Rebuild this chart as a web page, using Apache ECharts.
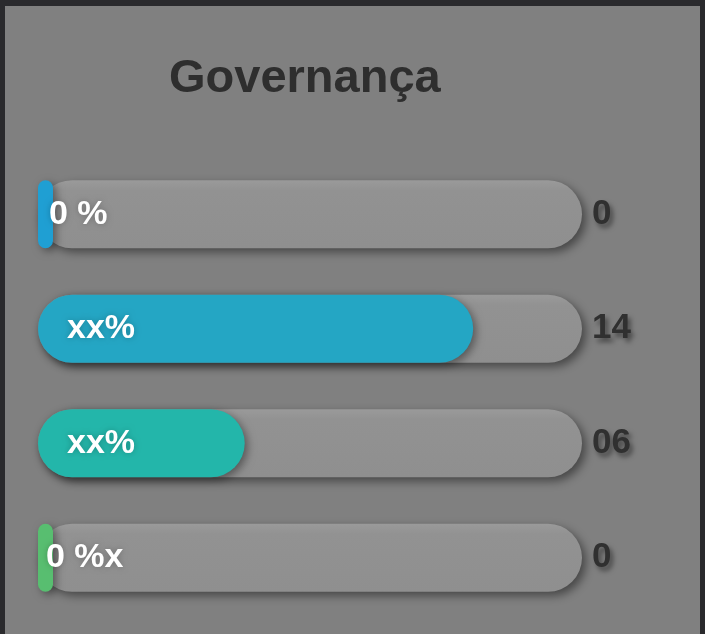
<!DOCTYPE html>
<html>
<head>
<meta charset="utf-8">
<script src="https://cdn.jsdelivr.net/npm/echarts@6/dist/echarts.min.js"></script>
<style>
  html, body { margin: 0; padding: 0; background: #2a2a2d; width: 705px; height: 634px; overflow: hidden; }
  #main { position: absolute; left: 5px; top: 6px; width: 695px; height: 628px; background: #808080; }
</style>
</head>
<body>
<div id="main"></div>
<script>
var categories = ["r1", "r2", "r3", "r4"];
var percentValues = [0, 80, 38, 0];
var innerLabels = ["0 %", "xx%", "xx%", "0 %x"];
var rightLabels = ["0", "14", "06", "0"];
var barColors = ["#1f9fd3", "#24a6c4", "#23b6aa", "#58be70"];
var trackValues = [100, 100, 100, 100];

var chart = echarts.init(document.getElementById("main"));

// zero bars only show the min-width stub, so their label sits closer
var barData = percentValues.map(function (v, i) {
  return {
    value: v,
    itemStyle: { color: barColors[i] },
    label: { offset: [v === 0 ? (i === 0 ? 6 : 3) : 24, 0] }
  };
});

var option = {
  animation: false,
  title: {
    text: "Governança",
    left: 159,
    top: 45,
    textStyle: { fontSize: 47, fontWeight: "bold", color: "#2e2e2e", fontFamily: "Liberation Sans" }
  },
  grid: { left: 33, right: 118, top: 151, bottom: 19 },
  xAxis: { type: "value", min: 0, max: 100, show: false },
  yAxis: {
    type: "category",
    data: categories,
    inverse: true,
    show: false
  },
  series: [
    {
      type: "bar",
      data: trackValues,
      barWidth: 68,
      silent: true,
      z: 1,
      itemStyle: {
        color: new echarts.graphic.LinearGradient(0, 0, 0, 1, [
          { offset: 0, color: "#9a9a9a" },
          { offset: 0.15, color: "#929292" },
          { offset: 1, color: "#8f8f8f" }
        ]),
        borderRadius: 34,
        shadowColor: "rgba(0,0,0,0.45)",
        shadowBlur: 10,
        shadowOffsetX: 4,
        shadowOffsetY: 4
      },
      label: {
        show: true,
        position: "right",
        distance: 10,
        formatter: function (p) { return rightLabels[p.dataIndex]; },
        fontSize: 35,
        fontWeight: "bold",
        fontFamily: "Liberation Sans",
        color: "#303030",
        textShadowColor: "rgba(0,0,0,0.45)",
        textShadowBlur: 5,
        textShadowOffsetX: 3,
        textShadowOffsetY: 4
      }
    },
    {
      type: "bar",
      data: barData,
      barWidth: 68,
      barGap: "-100%",
      barMinHeight: 15,
      z: 2,
      itemStyle: {
        borderRadius: 34,
        shadowColor: "rgba(0,0,0,0.4)",
        shadowBlur: 8,
        shadowOffsetX: 3,
        shadowOffsetY: 3
      },
      label: {
        show: true,
        position: "insideLeft",
        formatter: function (p) { return innerLabels[p.dataIndex]; },
        fontSize: 34,
        fontWeight: "bold",
        fontFamily: "Liberation Sans",
        color: "#ffffff",
        textShadowColor: "rgba(0,0,0,0.25)",
        textShadowBlur: 6
      }
    }
  ]
};

chart.setOption(option);
</script>
</body>
</html>
